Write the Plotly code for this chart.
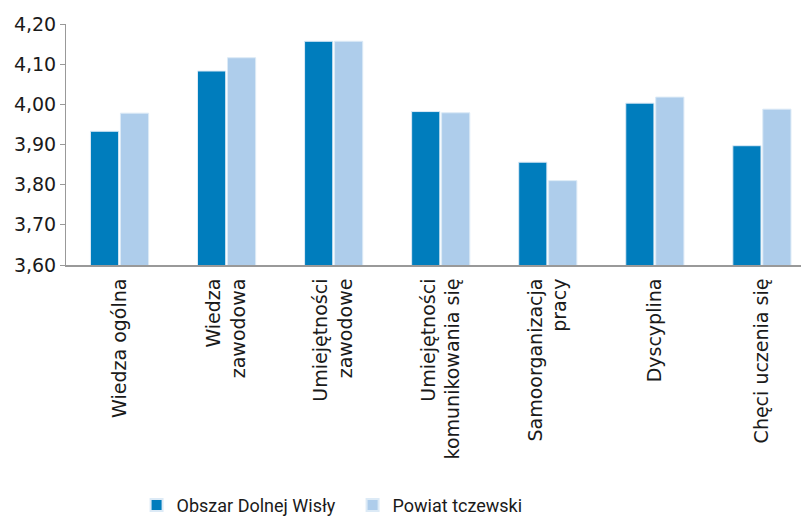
import plotly.graph_objects as go

categories = [
    "Wiedza ogólna",
    "Wiedza<br>zawodowa",
    "Umiejętności<br>zawodowe",
    "Umiejętności<br>komunikowania się",
    "Samoorganizacja<br>pracy",
    "Dyscyplina",
    "Chęci uczenia się",
]
obszar = [3.933, 4.083, 4.157, 3.982, 3.856, 4.003, 3.897]
powiat = [3.978, 4.116, 4.157, 3.979, 3.810, 4.018, 3.988]
series_names = ["Obszar Dolnej Wisły", "Powiat tczewski"]
y_ticks = [3.60, 3.70, 3.80, 3.90, 4.00, 4.10, 4.20]

font_main = "DejaVu Sans"
font_legend = "Liberation Sans Narrow, Roboto"

fig = go.Figure()
fig.add_trace(go.Bar(
    x=list(range(len(categories))), y=obszar, name=series_names[0],
    marker=dict(color="#007DBD", line=dict(color="#DCEAF6", width=1)),
))
fig.add_trace(go.Bar(
    x=list(range(len(categories))), y=powiat, name=series_names[1],
    marker=dict(color="#AECDEB", line=dict(color="#DCEAF6", width=1)),
))

fig.update_layout(
    width=801, height=509,
    margin=dict(l=58, r=0, t=16, b=252, autoexpand=False),
    paper_bgcolor="white", plot_bgcolor="white",
    barmode="group", bargap=0.44, bargroupgap=0.06,
    separators=", ",
    font=dict(family=font_main, color="#1a1a1a", size=17),
    showlegend=True,
    legend=dict(
        orientation="h", x=0.095, xanchor="left", y=-1.074, yanchor="bottom",
        font=dict(family=font_legend, size=18, color="#1a1a1a"),
        entrywidth=171, entrywidthmode="pixels",
        itemsizing="constant",
    ),
)
fig.update_xaxes(
    range=[-0.5, 6.44],
    tickmode="array", tickvals=list(range(len(categories))), ticktext=categories,
    tickangle=-90, showline=True, linecolor="#999999", linewidth=2,
    ticks="", showgrid=False, zeroline=False, automargin=False,
    ticklabelstandoff=4,
    tickfont=dict(family=font_main, size=19, color="#1a1a1a"),
)
fig.update_yaxes(
    range=[3.60, 4.20], tickmode="array", tickvals=y_ticks, tickformat=".2f",
    showline=True, linecolor="#999999", linewidth=1,
    ticks="outside", ticklen=5, tickcolor="#999999",
    showgrid=False, zeroline=False, automargin=False,
    tickfont=dict(family=font_main, size=19, color="#1a1a1a"),
)

fig.write_html("out.html")
